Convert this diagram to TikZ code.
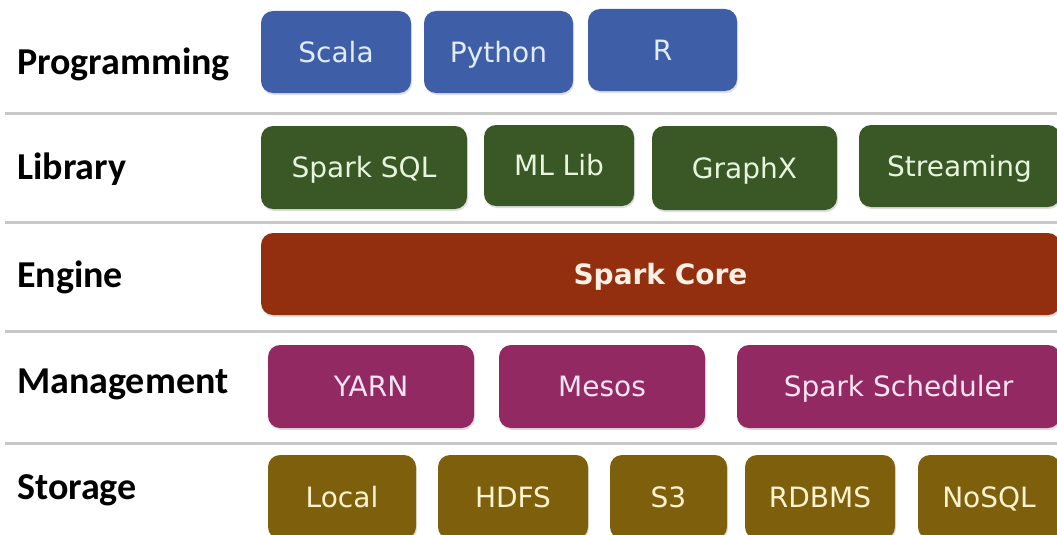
\documentclass[tikz,border=0pt]{standalone}
\usepackage{fontspec}
\setmainfont{DejaVu Sans}
\newfontfamily\lblfont{Carlito}
\usetikzlibrary{shadows}
\definecolor{cprog}{RGB}{62,95,167}
\definecolor{clib}{RGB}{57,88,38}
\definecolor{ceng}{RGB}{147,47,14}
\definecolor{cmgmt}{RGB}{146,41,99}
\definecolor{cstor}{RGB}{126,95,12}
\definecolor{tprog}{RGB}{225,236,250}
\definecolor{tlib}{RGB}{232,245,222}
\definecolor{teng}{RGB}{255,240,228}
\definecolor{tmgmt}{RGB}{250,228,243}
\definecolor{tstor}{RGB}{255,244,210}
\definecolor{sep}{RGB}{200,200,200}
\tikzset{
  x=1pt,y=-1pt,
  layerlabel/.style={anchor=west,inner sep=0pt,text height=25pt,text depth=0pt,
     font=\lblfont\bfseries\fontsize{38}{40}\selectfont,text=black},
  box/.style={rounded corners=12pt,inner sep=0pt,text height=20.4pt,text depth=0pt,
     font=\fontsize{28}{32}\selectfont,
     drop shadow={shadow xshift=1pt,shadow yshift=-2pt,opacity=0.25}},
  progbox/.style={box,fill=cprog,text=tprog},
  libbox/.style={box,fill=clib,text=tlib},
  engbox/.style={box,fill=ceng,text=teng,font=\bfseries\fontsize{28}{32}\selectfont},
  mgmtbox/.style={box,fill=cmgmt,text=tmgmt},
  storbox/.style={box,fill=cstor,text=tstor},
  seprule/.style={draw=sep,line width=3pt}
}
\newcommand{\bx}[7]{% style, name, x1, y1, x2, y2, text
  \node[#1,minimum width=#5pt-#3pt,minimum height=#6pt-#4pt] (#2) at ({(#3+#5)/2},{(#4+#6)/2}) {#7};}
\begin{document}
\begin{tikzpicture}
\useasboundingbox (0,0) rectangle (1057,535);
\fill[white] (0,0) rectangle (1057,535);
% separators
\coordinate (s1a) at (5,113); \coordinate (s1b) at (1057,113);
\coordinate (s2a) at (5,222); \coordinate (s2b) at (1057,222);
\coordinate (s3a) at (5,331); \coordinate (s3b) at (1057,331);
\coordinate (s4a) at (5,443); \coordinate (s4b) at (1057,443);
\draw[seprule] (s1a) -- (s1b);
\draw[seprule] (s2a) -- (s2b);
\draw[seprule] (s3a) -- (s3b);
\draw[seprule] (s4a) -- (s4b);
% labels
\node[layerlabel] (lprog) at (17,62) {Programming};
\node[layerlabel] (llib) at (17,167) {Library};
\node[layerlabel] (leng) at (17,275) {Engine};
\node[layerlabel] (lmgmt) at (17,381) {Management};
\node[layerlabel] (lstor) at (17,487) {Storage};
% programming
\bx{progbox}{scala}{261}{11}{411}{93}{Scala}
\bx{progbox}{python}{424}{11}{573}{93}{Python}
\bx{progbox}{rlang}{588}{9}{737}{91}{R}
% library
\bx{libbox}{sql}{261}{126}{467}{209}{Spark SQL}
\bx{libbox}{ml}{484}{125}{634}{206}{ML Lib}
\bx{libbox}{graphx}{652}{126}{837}{210}{GraphX}
\bx{libbox}{stream}{859}{125}{1060}{207}{Streaming}
% engine
\bx{engbox}{core}{261}{233}{1060}{315}{Spark Core}
% management
\bx{mgmtbox}{yarn}{268}{345}{474}{428}{YARN}
\bx{mgmtbox}{mesos}{499}{345}{705}{428}{Mesos}
\bx{mgmtbox}{sched}{737}{345}{1060}{428}{Spark Scheduler}
% storage
\bx{storbox}{local}{268}{455}{416}{539}{Local}
\bx{storbox}{hdfs}{438}{455}{588}{539}{HDFS}
\bx{storbox}{sthree}{610}{455}{727}{539}{S3}
\bx{storbox}{rdbms}{745}{455}{895}{539}{RDBMS}
\bx{storbox}{nosql}{918}{455}{1060}{539}{NoSQL}
\end{tikzpicture}
\end{document}
